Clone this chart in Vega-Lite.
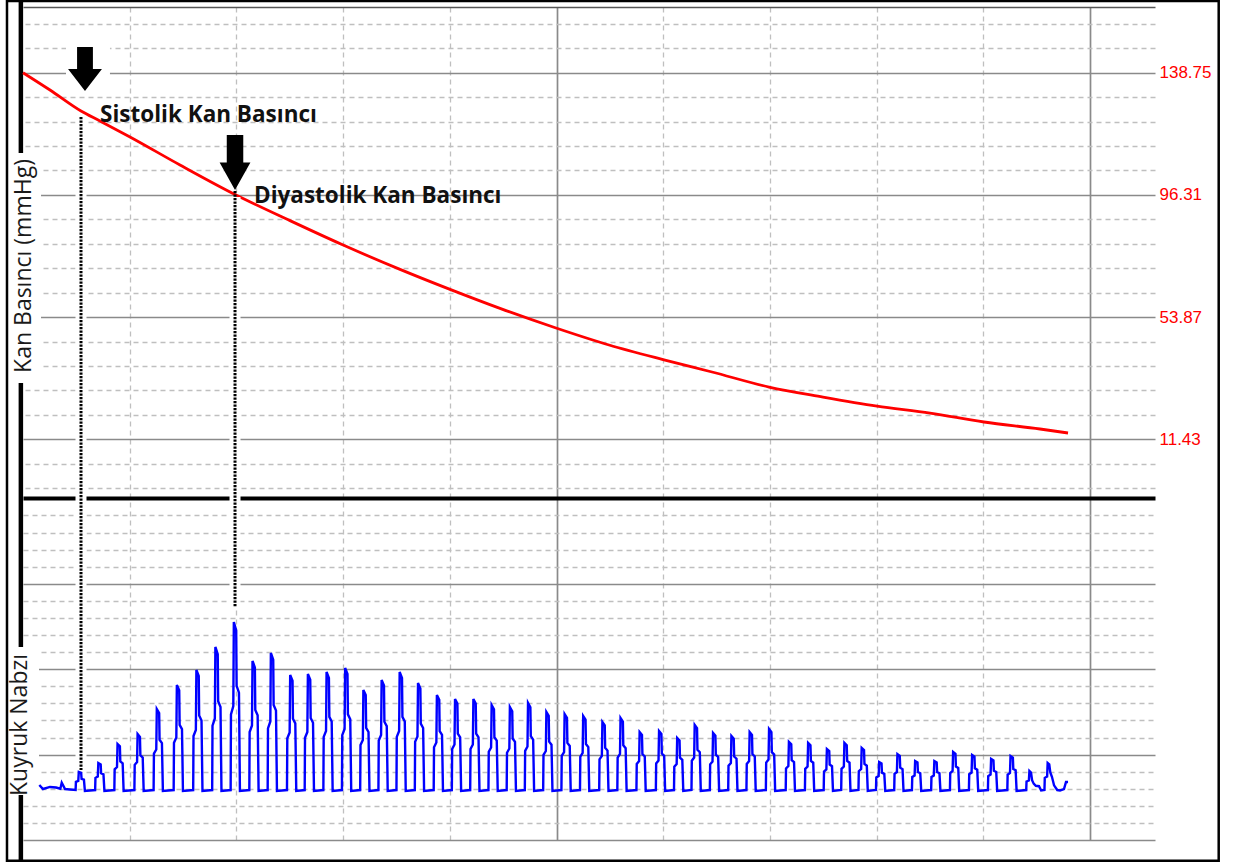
{
  "$schema": "https://vega.github.io/schema/vega-lite/v6.json",
  "width": 1132,
  "height": 833,
  "autosize": {"type": "none"},
  "padding": {"left": 23, "top": 7, "right": 78, "bottom": 25},
  "background": "white",
  "config": {"view": {"stroke": null}},
  "datasets": {
    "frame": [{"t": -0.15, "t2": 11.206, "p": 163.65, "p2": -134.92}],
    "leftline": [{"t": -0.02, "p": 163.65, "p2": -134.92}],
    "kanbox": [{"t": -0.103, "t2": 0.169, "p": 110.86, "p2": 30.98}],
    "arrowbox": [{"t": 0.403, "t2": 0.815, "p": 149.41, "p2": 131.7}],
    "arrow1": [{"t": 0.581, "p": 140.04}],
    "arrow2": [{"t": 1.987, "p": 107.56}],
    "notes": [
      {"label": "Sistolik Kan Basıncı", "t": 0.722, "p": 121.63},
      {"label": "Diyastolik Kan Basıncı", "t": 2.165, "p": 93.39}
    ],
    "kantitle": [{"label": "Kan Basıncı (mmHg)", "t": 0.0703, "p": 71.62}],
    "kuyrukbox": [{"t": -0.103, "t2": 0.15, "u": 22.6, "u2": 5.27}],
    "kuyruktitle": [{"label": "Kuyruk Nabzı", "t": 0.0375, "u": 13.47}],
    "dots": [
      {"t": 0.5436, "u": 84.66, "us": 84.66, "u2": 8.2},
      {"t": 1.987, "u": 76.0, "us": 75.3, "u2": 27.28}
    ],
    "pressure": [
      {"t": 0, "p": 138.75}, {"t": 0.253, "p": 132.74}, {"t": 0.5436, "p": 125.45},
      {"t": 0.7216, "p": 121.98}, {"t": 1.0028, "p": 116.42}, {"t": 1.4714, "p": 106.69},
      {"t": 1.9681, "p": 96.8}, {"t": 2.5023, "p": 87.38}, {"t": 2.9897, "p": 79.08},
      {"t": 3.5333, "p": 70.44}, {"t": 4.0019, "p": 63.49}, {"t": 4.4705, "p": 56.89},
      {"t": 4.9953, "p": 50.08}, {"t": 5.492, "p": 44.18}, {"t": 5.9981, "p": 39.11},
      {"t": 6.4574, "p": 34.8}, {"t": 6.9916, "p": 29.59}, {"t": 7.4977, "p": 26.12},
      {"t": 8.0037, "p": 22.99}, {"t": 8.5005, "p": 20.56}, {"t": 9.0066, "p": 17.44},
      {"t": 9.5314, "p": 15.01}, {"t": 9.7938, "p": 13.62}
    ],
    "pulse": [
      {"t":0.153,"u":6.44},{"t":0.187,"u":5.97},{"t":0.253,"u":6.21},{"t":0.309,"u":6.15},{"t":0.35,"u":6.0},{"t":0.363,"u":6.71},{"t":0.394,"u":5.97},{"t":0.44,"u":5.91},
      {"t":0.493,"u":5.85},{"t":0.496,"u":6.8},{"t":0.518,"u":6.91},{"t":0.523,"u":7.96},{"t":0.545,"u":7.85},{"t":0.549,"u":7.16},{"t":0.571,"u":7.07},{"t":0.58,"u":5.75},
      {"t":0.676,"u":5.85},{"t":0.679,"u":7.28},{"t":0.701,"u":7.44},{"t":0.706,"u":9.02},{"t":0.728,"u":8.86},{"t":0.732,"u":7.82},{"t":0.754,"u":7.69},{"t":0.763,"u":5.75},
      {"t":0.856,"u":5.85},{"t":0.859,"u":8.28},{"t":0.881,"u":8.55},{"t":0.886,"u":11.24},{"t":0.908,"u":10.97},{"t":0.912,"u":9.19},{"t":0.934,"u":8.98},{"t":0.943,"u":5.75},
      {"t":1.044,"u":5.85},{"t":1.047,"u":8.8},{"t":1.069,"u":9.13},{"t":1.074,"u":12.41},{"t":1.096,"u":12.08},{"t":1.1,"u":9.92},{"t":1.122,"u":9.65},{"t":1.131,"u":5.75},
      {"t":1.224,"u":5.85},{"t":1.227,"u":10.12},{"t":1.249,"u":10.6},{"t":1.254,"u":15.34},{"t":1.276,"u":14.87},{"t":1.28,"u":11.73},{"t":1.302,"u":11.35},{"t":1.311,"u":5.75},
      {"t":1.412,"u":5.85},{"t":1.415,"u":11.39},{"t":1.437,"u":12.0},{"t":1.442,"u":18.15},{"t":1.464,"u":17.54},{"t":1.468,"u":13.48},{"t":1.49,"u":12.98},{"t":1.499,"u":5.75},
      {"t":1.595,"u":5.85},{"t":1.598,"u":12.18},{"t":1.62,"u":12.88},{"t":1.625,"u":19.91},{"t":1.647,"u":19.21},{"t":1.651,"u":14.57},{"t":1.673,"u":14.0},{"t":1.682,"u":5.75},
      {"t":1.773,"u":5.85},{"t":1.776,"u":13.39},{"t":1.798,"u":14.23},{"t":1.803,"u":22.6},{"t":1.825,"u":21.76},{"t":1.829,"u":16.24},{"t":1.851,"u":15.57},{"t":1.86,"u":5.75},
      {"t":1.946,"u":5.85},{"t":1.949,"u":14.71},{"t":1.971,"u":15.69},{"t":1.976,"u":25.53},{"t":1.998,"u":24.55},{"t":2.002,"u":18.05},{"t":2.024,"u":17.26},{"t":2.033,"u":5.75},
      {"t":2.121,"u":5.85},{"t":2.124,"u":12.65},{"t":2.146,"u":13.41},{"t":2.151,"u":20.96},{"t":2.173,"u":20.2},{"t":2.177,"u":15.22},{"t":2.199,"u":14.61},{"t":2.208,"u":5.75},
      {"t":2.293,"u":5.85},{"t":2.296,"u":13.07},{"t":2.318,"u":13.88},{"t":2.323,"u":21.9},{"t":2.345,"u":21.1},{"t":2.349,"u":15.8},{"t":2.371,"u":15.16},{"t":2.38,"u":5.75},
      {"t":2.474,"u":5.85},{"t":2.477,"u":11.91},{"t":2.499,"u":12.59},{"t":2.504,"u":19.32},{"t":2.526,"u":18.65},{"t":2.53,"u":14.2},{"t":2.552,"u":13.66},{"t":2.561,"u":5.75},
      {"t":2.64,"u":5.85},{"t":2.643,"u":11.97},{"t":2.665,"u":12.65},{"t":2.67,"u":19.44},{"t":2.692,"u":18.76},{"t":2.696,"u":14.28},{"t":2.718,"u":13.73},{"t":2.727,"u":5.75},
      {"t":2.815,"u":5.85},{"t":2.818,"u":12.07},{"t":2.84,"u":12.76},{"t":2.845,"u":19.67},{"t":2.867,"u":18.98},{"t":2.871,"u":14.42},{"t":2.893,"u":13.87},{"t":2.902,"u":5.75},
      {"t":2.989,"u":5.85},{"t":2.992,"u":12.28},{"t":3.014,"u":13.0},{"t":3.019,"u":20.14},{"t":3.041,"u":19.43},{"t":3.045,"u":14.71},{"t":3.067,"u":14.14},{"t":3.076,"u":5.75},
      {"t":3.16,"u":5.85},{"t":3.163,"u":11.12},{"t":3.185,"u":11.71},{"t":3.19,"u":17.57},{"t":3.212,"u":16.98},{"t":3.216,"u":13.12},{"t":3.238,"u":12.65},{"t":3.247,"u":5.75},
      {"t":3.331,"u":5.85},{"t":3.334,"u":11.65},{"t":3.356,"u":12.3},{"t":3.361,"u":18.74},{"t":3.383,"u":18.1},{"t":3.387,"u":13.84},{"t":3.409,"u":13.33},{"t":3.418,"u":5.75},
      {"t":3.5,"u":5.85},{"t":3.503,"u":12.07},{"t":3.525,"u":12.76},{"t":3.53,"u":19.67},{"t":3.552,"u":18.98},{"t":3.556,"u":14.42},{"t":3.578,"u":13.87},{"t":3.587,"u":5.75},
      {"t":3.672,"u":5.85},{"t":3.675,"u":11.49},{"t":3.697,"u":12.12},{"t":3.702,"u":18.38},{"t":3.724,"u":17.75},{"t":3.728,"u":13.62},{"t":3.75,"u":13.12},{"t":3.759,"u":5.75},
      {"t":3.849,"u":5.85},{"t":3.852,"u":10.86},{"t":3.874,"u":11.42},{"t":3.879,"u":16.98},{"t":3.901,"u":16.42},{"t":3.905,"u":12.75},{"t":3.927,"u":12.31},{"t":3.936,"u":5.75},
      {"t":4.019,"u":5.85},{"t":4.022,"u":10.65},{"t":4.044,"u":11.18},{"t":4.049,"u":16.51},{"t":4.071,"u":15.98},{"t":4.075,"u":12.46},{"t":4.097,"u":12.03},{"t":4.106,"u":5.75},
      {"t":4.191,"u":5.85},{"t":4.194,"u":10.65},{"t":4.216,"u":11.18},{"t":4.221,"u":16.51},{"t":4.243,"u":15.98},{"t":4.247,"u":12.46},{"t":4.269,"u":12.03},{"t":4.278,"u":5.75},
      {"t":4.362,"u":5.85},{"t":4.365,"u":10.33},{"t":4.387,"u":10.83},{"t":4.392,"u":15.81},{"t":4.414,"u":15.31},{"t":4.418,"u":12.03},{"t":4.44,"u":11.63},{"t":4.449,"u":5.75},
      {"t":4.533,"u":5.85},{"t":4.536,"u":10.22},{"t":4.558,"u":10.71},{"t":4.563,"u":15.57},{"t":4.585,"u":15.08},{"t":4.589,"u":11.88},{"t":4.611,"u":11.49},{"t":4.62,"u":5.75},
      {"t":4.703,"u":5.85},{"t":4.706,"u":10.44},{"t":4.728,"u":10.95},{"t":4.733,"u":16.04},{"t":4.755,"u":15.53},{"t":4.759,"u":12.17},{"t":4.781,"u":11.76},{"t":4.79,"u":5.75},
      {"t":4.875,"u":5.85},{"t":4.878,"u":9.96},{"t":4.9,"u":10.42},{"t":4.905,"u":14.99},{"t":4.927,"u":14.53},{"t":4.931,"u":11.52},{"t":4.953,"u":11.15},{"t":4.962,"u":5.75},
      {"t":5.046,"u":5.85},{"t":5.049,"u":9.86},{"t":5.071,"u":10.3},{"t":5.076,"u":14.75},{"t":5.098,"u":14.31},{"t":5.102,"u":11.37},{"t":5.124,"u":11.01},{"t":5.133,"u":5.75},
      {"t":5.22,"u":5.85},{"t":5.223,"u":9.75},{"t":5.245,"u":10.19},{"t":5.25,"u":14.52},{"t":5.272,"u":14.09},{"t":5.276,"u":11.23},{"t":5.298,"u":10.88},{"t":5.307,"u":5.75},
      {"t":5.4,"u":5.85},{"t":5.403,"u":9.44},{"t":5.425,"u":9.84},{"t":5.43,"u":13.82},{"t":5.452,"u":13.42},{"t":5.456,"u":10.79},{"t":5.478,"u":10.47},{"t":5.487,"u":5.75},
      {"t":5.57,"u":5.85},{"t":5.573,"u":9.65},{"t":5.595,"u":10.07},{"t":5.6,"u":14.29},{"t":5.622,"u":13.87},{"t":5.626,"u":11.08},{"t":5.648,"u":10.75},{"t":5.657,"u":5.75},
      {"t":5.749,"u":5.85},{"t":5.752,"u":8.91},{"t":5.774,"u":9.25},{"t":5.779,"u":12.65},{"t":5.801,"u":12.31},{"t":5.805,"u":10.07},{"t":5.827,"u":9.79},{"t":5.836,"u":5.75},
      {"t":5.931,"u":5.85},{"t":5.934,"u":8.96},{"t":5.956,"u":9.31},{"t":5.961,"u":12.76},{"t":5.983,"u":12.41},{"t":5.987,"u":10.13},{"t":6.009,"u":9.86},{"t":6.018,"u":5.75},
      {"t":6.101,"u":5.85},{"t":6.104,"u":8.59},{"t":6.126,"u":8.9},{"t":6.131,"u":11.94},{"t":6.153,"u":11.64},{"t":6.157,"u":9.63},{"t":6.179,"u":9.38},{"t":6.188,"u":5.75},
      {"t":6.265,"u":5.85},{"t":6.268,"u":9.28},{"t":6.29,"u":9.66},{"t":6.295,"u":13.47},{"t":6.317,"u":13.09},{"t":6.321,"u":10.57},{"t":6.343,"u":10.27},{"t":6.352,"u":5.75},
      {"t":6.437,"u":5.85},{"t":6.44,"u":8.86},{"t":6.462,"u":9.19},{"t":6.467,"u":12.53},{"t":6.489,"u":12.2},{"t":6.493,"u":9.99},{"t":6.515,"u":9.72},{"t":6.524,"u":5.75},
      {"t":6.609,"u":5.85},{"t":6.612,"u":8.7},{"t":6.634,"u":9.02},{"t":6.639,"u":12.18},{"t":6.661,"u":11.86},{"t":6.665,"u":9.77},{"t":6.687,"u":9.52},{"t":6.696,"u":5.75},
      {"t":6.78,"u":5.85},{"t":6.783,"u":8.91},{"t":6.805,"u":9.25},{"t":6.81,"u":12.65},{"t":6.832,"u":12.31},{"t":6.836,"u":10.07},{"t":6.858,"u":9.79},{"t":6.867,"u":5.75},
      {"t":6.962,"u":5.85},{"t":6.965,"u":9.07},{"t":6.987,"u":9.43},{"t":6.992,"u":13.0},{"t":7.014,"u":12.64},{"t":7.018,"u":10.28},{"t":7.04,"u":10.0},{"t":7.049,"u":5.75},
      {"t":7.148,"u":5.85},{"t":7.151,"u":8.38},{"t":7.173,"u":8.67},{"t":7.178,"u":11.48},{"t":7.2,"u":11.2},{"t":7.204,"u":9.34},{"t":7.226,"u":9.12},{"t":7.235,"u":5.75},
      {"t":7.328,"u":5.85},{"t":7.331,"u":8.33},{"t":7.353,"u":8.61},{"t":7.358,"u":11.36},{"t":7.38,"u":11.08},{"t":7.384,"u":9.27},{"t":7.406,"u":9.05},{"t":7.415,"u":5.75},
      {"t":7.504,"u":5.85},{"t":7.507,"u":8.01},{"t":7.529,"u":8.26},{"t":7.534,"u":10.66},{"t":7.556,"u":10.42},{"t":7.56,"u":8.83},{"t":7.582,"u":8.64},{"t":7.591,"u":5.75},
      {"t":7.668,"u":5.85},{"t":7.671,"u":8.33},{"t":7.693,"u":8.61},{"t":7.698,"u":11.36},{"t":7.72,"u":11.08},{"t":7.724,"u":9.27},{"t":7.746,"u":9.05},{"t":7.755,"u":5.75},
      {"t":7.83,"u":5.85},{"t":7.833,"u":8.06},{"t":7.855,"u":8.31},{"t":7.86,"u":10.77},{"t":7.882,"u":10.52},{"t":7.886,"u":8.9},{"t":7.908,"u":8.7},{"t":7.917,"u":5.75},
      {"t":7.994,"u":5.85},{"t":7.997,"u":7.33},{"t":8.019,"u":7.49},{"t":8.024,"u":9.13},{"t":8.046,"u":8.97},{"t":8.05,"u":7.88},{"t":8.072,"u":7.75},{"t":8.081,"u":5.75},
      {"t":8.165,"u":5.85},{"t":8.168,"u":7.75},{"t":8.19,"u":7.96},{"t":8.195,"u":10.07},{"t":8.217,"u":9.86},{"t":8.221,"u":8.47},{"t":8.243,"u":8.3},{"t":8.252,"u":5.75},
      {"t":8.331,"u":5.85},{"t":8.334,"u":7.38},{"t":8.356,"u":7.55},{"t":8.361,"u":9.25},{"t":8.383,"u":9.08},{"t":8.387,"u":7.96},{"t":8.409,"u":7.82},{"t":8.418,"u":5.75},
      {"t":8.511,"u":5.85},{"t":8.514,"u":7.38},{"t":8.536,"u":7.55},{"t":8.541,"u":9.25},{"t":8.563,"u":9.08},{"t":8.567,"u":7.96},{"t":8.589,"u":7.82},{"t":8.598,"u":5.75},
      {"t":8.687,"u":5.85},{"t":8.69,"u":7.85},{"t":8.712,"u":8.08},{"t":8.717,"u":10.3},{"t":8.739,"u":10.08},{"t":8.743,"u":8.61},{"t":8.765,"u":8.43},{"t":8.774,"u":5.75},
      {"t":8.865,"u":5.85},{"t":8.868,"u":7.7},{"t":8.89,"u":7.9},{"t":8.895,"u":9.95},{"t":8.917,"u":9.75},{"t":8.921,"u":8.39},{"t":8.943,"u":8.23},{"t":8.952,"u":5.75},
      {"t":9.043,"u":5.85},{"t":9.046,"u":7.49},{"t":9.068,"u":7.67},{"t":9.073,"u":9.49},{"t":9.095,"u":9.31},{"t":9.099,"u":8.11},{"t":9.121,"u":7.96},{"t":9.13,"u":5.75},
      {"t":9.225,"u":5.85},{"t":9.228,"u":7.65},{"t":9.25,"u":7.85},{"t":9.255,"u":9.84},{"t":9.277,"u":9.64},{"t":9.281,"u":8.32},{"t":9.303,"u":8.16},{"t":9.312,"u":5.75},
      {"t":9.402,"u":5.85},{"t":9.405,"u":6.85},{"t":9.427,"u":6.97},{"t":9.432,"u":8.08},{"t":9.447,"u":7.9},{"t":9.457,"u":7.0},{"t":9.472,"u":6.6},{"t":9.492,"u":6.35},{"t":9.522,"u":6.3},{"t":9.542,"u":5.8},
      {"t":9.573,"u":5.85},{"t":9.576,"u":7.28},{"t":9.598,"u":7.44},{"t":9.603,"u":9.02},{"t":9.618,"u":8.86},{"t":9.628,"u":7.9},{"t":9.643,"u":7.4},{"t":9.663,"u":6.4},{"t":9.693,"u":5.85},
      {"t":9.719,"u":5.8},{"t":9.756,"u":5.97},{"t":9.775,"u":6.79},{"t":9.794,"u":6.79}
    ]
  },
  "encoding": {
    "x": {
      "field": "t", "type": "quantitative",
      "scale": {"domain": [0, 10.609], "nice": false, "zero": false},
      "axis": {
        "orient": "bottom", "values": [1, 2, 3, 4, 5, 6, 7, 8, 9, 10],
        "grid": true, "domain": false, "ticks": false, "labels": false, "title": null,
        "gridColor": {"condition": {"test": "datum.value % 5 === 0", "value": "#8a8a8a"}, "value": "#bfbfbf"},
        "gridWidth": {"condition": {"test": "datum.value % 5 === 0", "value": 1.7}, "value": 1.3},
        "gridDash": {"condition": {"test": "datum.value % 5 === 0", "value": []}, "value": [5, 4]}
      }
    }
  },
  "layer": [
    {
      "encoding": {
        "y": {
          "field": "p", "type": "quantitative",
          "scale": {"domain": [-127.73, 161.57], "nice": false, "zero": false},
          "axis": {
            "orient": "right",
            "values": [-5.546, 2.942, 11.43, 19.918, 28.406, 36.894, 45.382, 53.87, 62.358, 70.846, 79.334, 87.822, 96.31, 104.798, 113.286, 121.774, 130.262, 138.75, 147.238, 155.726, 161.5],
            "grid": true, "domain": false, "ticks": false, "title": null,
            "labelOverlap": false, "labelBound": false,
            "labelColor": "#ff0000", "labelFont": "Liberation Sans", "labelFontSize": 17, "labelPadding": 4,
            "labelExpr": "(datum.value === 11.43 || datum.value === 53.87 || datum.value === 96.31 || datum.value === 138.75) ? format(datum.value, '.2f') : ''",
            "gridColor": {"condition": [{"test": "datum.value === 161.5", "value": "#555555"}, {"test": "datum.value === 11.43 || datum.value === 53.87 || datum.value === 96.31 || datum.value === 138.75", "value": "#8a8a8a"}], "value": "#bfbfbf"},
            "gridWidth": {"condition": {"test": "datum.value === 161.5 || datum.value === 11.43 || datum.value === 53.87 || datum.value === 96.31 || datum.value === 138.75", "value": 1.7}, "value": 1.3},
            "gridDash": {"condition": {"test": "datum.value === 161.5 || datum.value === 11.43 || datum.value === 53.87 || datum.value === 96.31 || datum.value === 138.75", "value": []}, "value": [5, 4]}
          }
        }
      },
      "layer": [
        {"data": {"name": "frame"}, "mark": {"type": "rect", "filled": false, "color": "#000000", "strokeWidth": 2.5}, "encoding": {"x2": {"field": "t2"}, "y2": {"field": "p2"}}},
        {"data": {"name": "leftline"}, "mark": {"type": "rule", "color": "#000000", "strokeWidth": 4.5}, "encoding": {"y2": {"field": "p2"}}},
        {"data": {"name": "kanbox"}, "mark": {"type": "rect", "color": "#ffffff", "strokeWidth": 0}, "encoding": {"x2": {"field": "t2"}, "y2": {"field": "p2"}}},
        {"data": {"name": "arrowbox"}, "mark": {"type": "rect", "color": "#ffffff", "strokeWidth": 0}, "encoding": {"x2": {"field": "t2"}, "y2": {"field": "p2"}}},
        {"data": {"name": "pressure"}, "mark": {"type": "line", "color": "#ff0000", "strokeWidth": 2.8, "interpolate": "monotone"}, "encoding": {}},
        {"data": {"name": "arrow1"}, "mark": {"type": "point", "shape": "M-0.36,-1L0.36,-1L0.36,0L0.77,0L0,1L-0.77,0L-0.36,0Z", "size": 1936, "filled": true, "color": "#000000", "opacity": 1, "strokeWidth": 0}, "encoding": {}},
        {"data": {"name": "arrow2"}, "mark": {"type": "point", "shape": "M-0.3,-1L0.3,-1L0.3,0L0.56,0L0,1L-0.56,0L-0.3,0Z", "size": 3025, "filled": true, "color": "#000000", "opacity": 1, "strokeWidth": 0}, "encoding": {}},
        {"data": {"name": "notes"}, "mark": {"type": "text", "align": "left", "baseline": "alphabetic", "font": "Open Sans", "fontWeight": "bold", "fontSize": 22.5, "color": "#111111"}, "encoding": {"text": {"field": "label"}}},
        {"data": {"name": "kantitle"}, "mark": {"type": "text", "align": "center", "baseline": "alphabetic", "angle": 270, "font": "Open Sans", "fontSize": 23, "color": "#1a1a1a"}, "encoding": {"text": {"field": "label"}}}
      ]
    },
    {
      "encoding": {
        "y": {
          "field": "u", "type": "quantitative",
          "scale": {"domain": [0, 97.54], "nice": false, "zero": false},
          "axis": {
            "orient": "left",
            "values": [0, 2, 4, 6, 8, 10, 12, 14, 16, 18, 20, 22, 24, 26, 28, 30, 32, 34, 36, 38, 40],
            "grid": true, "domain": false, "ticks": false, "labels": false, "title": null,
            "gridColor": {"condition": [{"test": "datum.value === 40", "value": "#000000"}, {"test": "datum.value % 10 === 0", "value": "#8a8a8a"}], "value": "#bfbfbf"},
            "gridWidth": {"condition": [{"test": "datum.value === 40", "value": 4}, {"test": "datum.value % 10 === 0", "value": 1.7}], "value": 1.3},
            "gridDash": {"condition": {"test": "datum.value % 10 === 0", "value": []}, "value": [5, 4]}
          }
        }
      },
      "layer": [
        {"data": {"name": "kuyrukbox"}, "mark": {"type": "rect", "color": "#ffffff", "strokeWidth": 0}, "encoding": {"x2": {"field": "t2"}, "y2": {"field": "u2"}}},
        {"data": {"name": "pulse"}, "mark": {"type": "line", "color": "#0000ff", "strokeWidth": 2.4}, "encoding": {}},
        {"data": {"name": "dots"}, "mark": {"type": "rule", "color": "#ffffff", "strokeWidth": 11}, "encoding": {"y": {"field": "us", "type": "quantitative"}, "y2": {"field": "u2"}}},
        {"data": {"name": "dots"}, "mark": {"type": "rule", "color": "#000000", "strokeWidth": 3, "strokeDash": [2.2, 1.3]}, "encoding": {"y2": {"field": "u2"}}},
        {"data": {"name": "kuyruktitle"}, "mark": {"type": "text", "align": "center", "baseline": "alphabetic", "angle": 270, "font": "Open Sans", "fontSize": 23, "color": "#1a1a1a"}, "encoding": {"text": {"field": "label"}}}
      ]
    }
  ],
  "resolve": {"scale": {"y": "independent"}, "axis": {"y": "independent"}}
}
